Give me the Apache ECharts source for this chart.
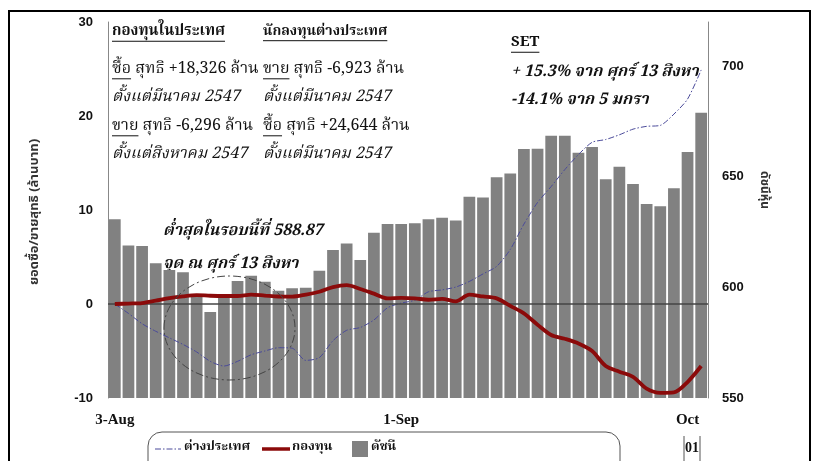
<!DOCTYPE html>
<html><head><meta charset="utf-8">
<script src="https://cdn.jsdelivr.net/npm/echarts@6/dist/echarts.min.js"></script>
<style>html,body{margin:0;padding:0;background:#fff}#c{width:814px;height:461px}</style>
</head><body><div id="c"></div>
<script>
// ---- data ----
const categories = ['3-Aug','4-Aug','5-Aug','6-Aug','9-Aug','10-Aug','11-Aug','13-Aug','16-Aug','17-Aug',
  '18-Aug','19-Aug','20-Aug','23-Aug','24-Aug','25-Aug','26-Aug','27-Aug','30-Aug','31-Aug',
  '1-Sep','2-Sep','3-Sep','6-Sep','7-Sep','8-Sep','9-Sep','10-Sep','13-Sep','14-Sep',
  '15-Sep','16-Sep','17-Sep','20-Sep','21-Sep','22-Sep','23-Sep','24-Sep','27-Sep','28-Sep',
  '29-Sep','30-Sep','1-Oct','4-Oct'];
const xTickIndex = [0, 21, 42];
const xTickText = ['3-Aug', '1-Sep', 'Oct'];
const setIndex = [630.8, 618.9, 618.7, 610.9, 607.9, 606.8, 596.5, 588.87, 596.0, 602.9,
  605.3, 602.6, 598.5, 599.6, 599.8, 607.5, 616.9, 619.8, 612.4, 624.7,
  628.7, 628.7, 629.0, 630.8, 631.5, 630.2, 641.0, 640.7, 649.8, 651.5,
  662.6, 662.7, 668.6, 668.6, 660.9, 663.5, 648.9, 654.6, 646.7, 637.7,
  636.7, 644.8, 661.2, 679.0];
const fundNet = [0, 0.05, 0.1, 0.35, 0.62, 0.82, 0.95, 0.88, 0.85, 0.85,
  1.0, 0.9, 0.8, 0.78, 1.0, 1.3, 1.8, 2.0, 1.6, 1.1,
  0.6, 0.65, 0.6, 0.45, 0.55, 0.28, 1.0, 0.8, 0.6, -0.2,
  -1.0, -2.2, -3.3, -3.7, -4.2, -5.0, -6.6, -7.2, -7.75, -9.0,
  -9.45, -9.4, -8.3, -6.6];
const foreignNet = [0, -1.0, -2.1, -2.9, -3.6, -4.3, -5.1, -6.1, -6.6, -6.1,
  -5.4, -5.0, -4.65, -4.7, -6.0, -5.7, -3.9, -2.8, -2.5, -1.7,
  -0.4, 0.1, 0.4, 1.3, 1.5, 1.8, 2.4, 3.2, 4.0, 5.8,
  8.5, 10.8, 12.5, 14.3, 15.9, 17.2, 17.5, 18.0, 18.6, 18.9,
  19.0, 20.2, 21.8, 24.9];
const leftAxis = {min: -10, max: 30, interval: 10};
const rightAxis = {min: 550, max: 720, interval: 50};
const seriesNames = ['ต่างประเทศ', 'กองทุน', 'ดัชนี'];

// ---- styles ----
const THAI = "'Noto Serif Thai','Noto Sans Thai','Tlwg Typo','Garuda',serif";
const THAI_SANS = "'Noto Sans Thai','Garuda','Loma',sans-serif";
const BLUE = '#4a4a9a', RED = '#8b0a0a', GREY = '#818181';
const BLUE_DASH = [6, 2, 1.5, 2];
const cv = document.createElement('canvas').getContext('2d');
function tw(t, font){ cv.font = font; return cv.measureText(t).width; }

const chart = echarts.init(document.getElementById('c'));

function annot(x, y, parts, opt){
  const size = opt.size || 15;
  const font = (opt.italic ? 'italic ' : '') + (opt.bold ? 'bold ' : '') + size + 'px ' + THAI;
  const els = [];
  let cx = x;
  parts.forEach(([t, u]) => {
    const w = tw(t, font);
    els.push({type:'text', x: cx, y: y, style:{text:t, font:font, fill:'#111', align:'left', verticalAlign:'middle'}});
    if (u) els.push({type:'line', shape:{x1:cx, y1:y + size*0.55, x2:cx + w, y2:y + size*0.55}, style:{stroke:'#111', lineWidth:1}});
    cx += w;
  });
  return els;
}

const g = [];
g.push({type:'rect', shape:{x:9, y:11, width:801, height:470}, style:{fill:'none', stroke:'#000', lineWidth:2}, z:-1});
g.push(...annot(112, 33, [['กองทุนในประเทศ', true]], {bold:true}));
g.push(...annot(263, 33, [['นักลงทุนต่างประเทศ', true]], {bold:true, size:14}));
g.push(...annot(112, 70, [['ซื้อ', true], [' สุทธิ +18,326 ล้าน', false]], {size:16}));
g.push(...annot(263, 70, [['ขาย', true], [' สุทธิ -6,923 ล้าน', false]], {size:16}));
g.push(...annot(112, 98, [['ตั้งแต่มีนาคม 2547', false]], {italic:true, size:16}));
g.push(...annot(263, 98, [['ตั้งแต่มีนาคม 2547', false]], {italic:true, size:16}));
g.push(...annot(112, 127, [['ขาย', true], [' สุทธิ -6,296 ล้าน', false]], {size:16}));
g.push(...annot(263, 127, [['ซื้อ', true], [' สุทธิ +24,644 ล้าน', false]], {size:16}));
g.push(...annot(112, 155, [['ตั้งแต่สิงหาคม 2547', false]], {italic:true, size:16}));
g.push(...annot(263, 155, [['ตั้งแต่มีนาคม 2547', false]], {italic:true, size:16}));
g.push(...annot(511, 44, [['SET', true]], {bold:true}));
g.push(...annot(511, 73, [['+ 15.3% จาก ศุกร์ 13 สิงหา', false]], {bold:true, italic:true, size:16}));
g.push(...annot(511, 101, [['-14.1% จาก 5 มกรา', false]], {bold:true, italic:true, size:16}));
g.push(...annot(163, 232, [['ต่ำสุดในรอบนี้ที่ 588.87', false]], {bold:true, italic:true, size:16}));
g.push(...annot(163, 265, [['จุด ณ ศุกร์ 13 สิงหา', false]], {bold:true, italic:true, size:16}));
g.push({type:'ellipse', shape:{cx:229.5, cy:328, rx:65.5, ry:52}, style:{fill:'none', stroke:'#444', lineWidth:1, lineDash:[8,3,2,3]}, z:10});
g.push({type:'text', x:35, y:212, rotation:Math.PI/2, style:{text:'ยอดซื้อ/ขายสุทธิ (ล้านบาท)', font:'bold 13px ' + THAI_SANS, fill:'#333', align:'center', verticalAlign:'middle'}});
g.push({type:'text', x:763, y:190, rotation:-Math.PI/2, style:{text:'ดัชนีหุ้น', font:'bold 12px ' + THAI_SANS, fill:'#333', align:'center', verticalAlign:'middle'}});
// legend (frame + keys)
const LF = 'bold 13px ' + THAI;
g.push({type:'rect', shape:{x:148, y:432, width:472, height:45, r:14}, style:{fill:'#fff', stroke:'#555', lineWidth:1}, z:-1});
g.push({type:'line', shape:{x1:155, y1:449, x2:181, y2:449}, style:{stroke:BLUE, lineWidth:1, lineDash:BLUE_DASH}});
g.push({type:'text', x:184, y:448, style:{text:seriesNames[0], font:LF, fill:'#111', align:'left', verticalAlign:'middle'}});
g.push({type:'line', shape:{x1:262, y1:449, x2:290, y2:449}, style:{stroke:RED, lineWidth:3.5}});
g.push({type:'text', x:292, y:448, style:{text:seriesNames[1], font:LF, fill:'#111', align:'left', verticalAlign:'middle'}});
g.push({type:'rect', shape:{x:352, y:441, width:16, height:16}, style:{fill:GREY}});
g.push({type:'text', x:371, y:448, style:{text:seriesNames[2], font:LF, fill:'#111', align:'left', verticalAlign:'middle'}});
g.push({type:'text', x:692, y:448, style:{text:'01', font:'bold 14px "Liberation Serif", serif', fill:'#111', align:'center', verticalAlign:'middle'}});
g.push({type:'line', shape:{x1:684, y1:436, x2:684, y2:461}, style:{stroke:'#555', lineWidth:1}});
g.push({type:'line', shape:{x1:700, y1:436, x2:700, y2:461}, style:{stroke:'#555', lineWidth:1}});

const option = {
  animation: false,
  backgroundColor: '#fff',
  grid: {left: 108, right: 106, top: 22, bottom: 63, containLabel: false},
  xAxis: {
    type: 'category', data: categories, boundaryGap: true,
    axisLine: {show: false}, axisTick: {show: false},
    axisLabel: {
      interval: (i) => xTickIndex.indexOf(i) >= 0,
      formatter: (v, i) => { const k = xTickIndex.indexOf(i); return k >= 0 ? xTickText[k] : ''; },
      margin: 15, color: '#111', fontFamily: '"Liberation Serif", serif', fontWeight: 'bold', fontSize: 15
    }
  },
  yAxis: [
    {type: 'value', position: 'left', min: leftAxis.min, max: leftAxis.max, interval: leftAxis.interval,
     axisLine: {show: true, lineStyle: {color: '#888', width: 1}}, axisTick: {show: false}, splitLine: {show: false},
     axisLabel: {margin: 15, color: '#111', fontFamily: '"Liberation Sans", Arial, sans-serif', fontWeight: 'bold', fontSize: 13}},
    {type: 'value', position: 'right', min: rightAxis.min, max: rightAxis.max, interval: rightAxis.interval,
     axisLine: {show: true, lineStyle: {color: '#888', width: 1}}, axisTick: {show: false}, splitLine: {show: false},
     axisLabel: {margin: 14, showMaxLabel: false, color: '#111', fontFamily: '"Liberation Sans", Arial, sans-serif', fontWeight: 'bold', fontSize: 13}}
  ],
  series: [
    {name: seriesNames[2], type: 'bar', yAxisIndex: 1, data: setIndex, barCategoryGap: '14%',
     itemStyle: {color: GREY}, clip: true, z: 1},
    {name: seriesNames[0], type: 'line', yAxisIndex: 0, data: foreignNet, symbol: 'none', smooth: 0.25,
     lineStyle: {color: BLUE, width: 1, type: BLUE_DASH}, itemStyle: {color: BLUE}, z: 4},
    {name: seriesNames[1], type: 'line', yAxisIndex: 0, data: fundNet, symbol: 'none', smooth: 0.3,
     lineStyle: {color: RED, width: 3.8}, itemStyle: {color: RED}, z: 5,
     markLine: {silent: true, symbol: 'none', label: {show: false},
       lineStyle: {color: '#444', width: 1.5, type: 'solid'}, data: [{yAxis: 0}]}}
  ],
  graphic: g
};
chart.setOption(option);
</script>
</body></html>
